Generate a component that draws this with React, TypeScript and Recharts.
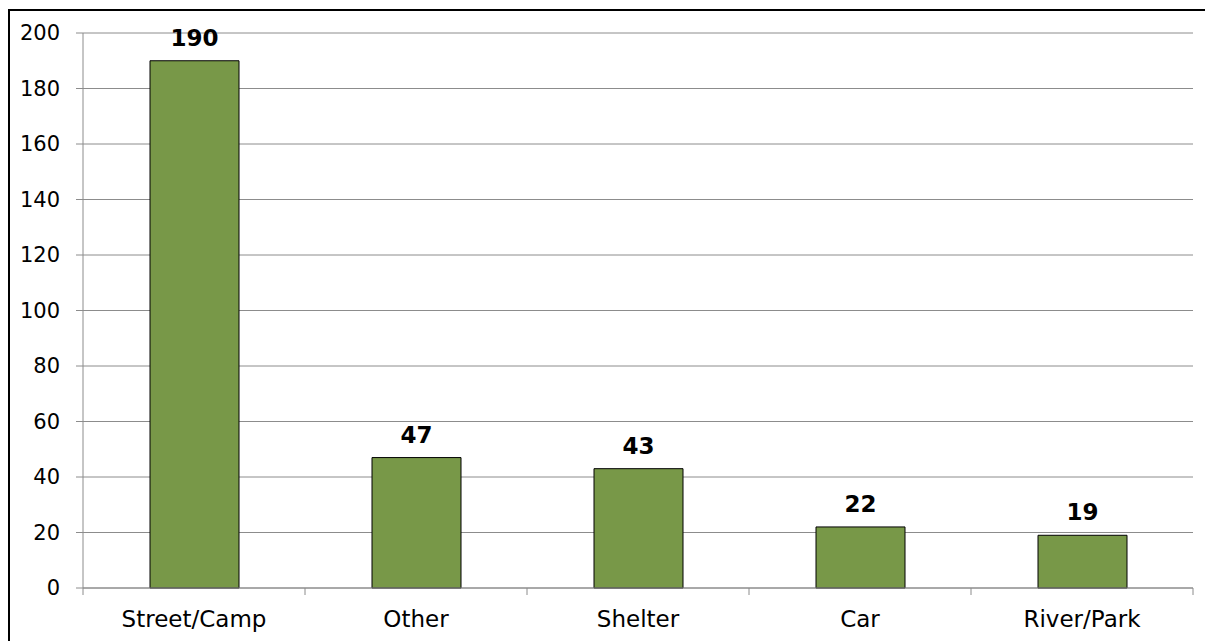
import { BarChart, Bar, XAxis, YAxis, CartesianGrid, LabelList } from 'recharts'

const categories = ['Street/Camp', 'Other', 'Shelter', 'Car', 'River/Park']
const counts = [190, 47, 43, 22, 19]
const yTicks = [0, 20, 40, 60, 80, 100, 120, 140, 160, 180, 200]

const data = categories.map((name, i) => ({ name, value: counts[i] }))

const W = 1205
const H = 641
const MARGIN = { top: 33, right: 12, bottom: 0, left: 23 }
const Y_W = 60
const X_H = 53
const PLOT_L = MARGIN.left + Y_W
const PLOT_R = W - MARGIN.right
const PLOT_B = H - X_H
const BAND = (PLOT_R - PLOT_L) / categories.length
const GRID = '#8c8c8c'
const FONT = '"DejaVu Sans", sans-serif'

// category ticks sit on the band edges, not the centres
const XTick = ({ x, payload, index }: any) => {
  const last = index === categories.length - 1
  return (
    <g>
      <line x1={x - BAND / 2} x2={x - BAND / 2} y1={PLOT_B} y2={PLOT_B + 7} stroke={GRID} strokeWidth={1} />
      {last && (
        <line x1={x + BAND / 2} x2={x + BAND / 2} y1={PLOT_B} y2={PLOT_B + 7} stroke={GRID} strokeWidth={1} />
      )}
      <text x={x} y={PLOT_B + 39} textAnchor="middle" fontSize={23} fontFamily={FONT} fill="#000">
        {payload.value}
      </text>
    </g>
  )
}

export default function App() {
  return (
    <div style={{ position: 'absolute', left: 0, top: 0, width: W, height: H, overflow: 'hidden', background: '#fff' }}>
      <div
        style={{
          position: 'absolute', left: 8, top: 9, width: W, height: H,
          borderLeft: '2px solid #000', borderTop: '2px solid #000',
        }}
      />
      <div style={{ position: 'absolute', left: 0, top: 0 }}>
        <BarChart width={W} height={H} data={data} margin={MARGIN}>
          <CartesianGrid vertical={false} stroke={GRID} strokeWidth={1} />
          <XAxis
            dataKey="name"
            height={X_H}
            axisLine={{ stroke: GRID }}
            tickLine={false}
            tick={<XTick />}
            interval={0}
          />
          <YAxis
            domain={[0, 200]}
            ticks={yTicks}
            width={Y_W}
            axisLine={{ stroke: GRID }}
            tickLine={{ stroke: GRID }}
            tickSize={7}
            tickMargin={16}
            tick={{ fill: '#000', fontSize: 21, fontFamily: FONT }}
          />
          <Bar dataKey="value" fill="#789848" stroke="#000" strokeWidth={1} barSize={89} isAnimationActive={false}>
            <LabelList
              dataKey="value"
              position="top"
              offset={15}
              fill="#000"
              fontSize={23}
              fontWeight="bold"
              fontFamily={FONT}
            />
          </Bar>
        </BarChart>
      </div>
    </div>
  )
}
